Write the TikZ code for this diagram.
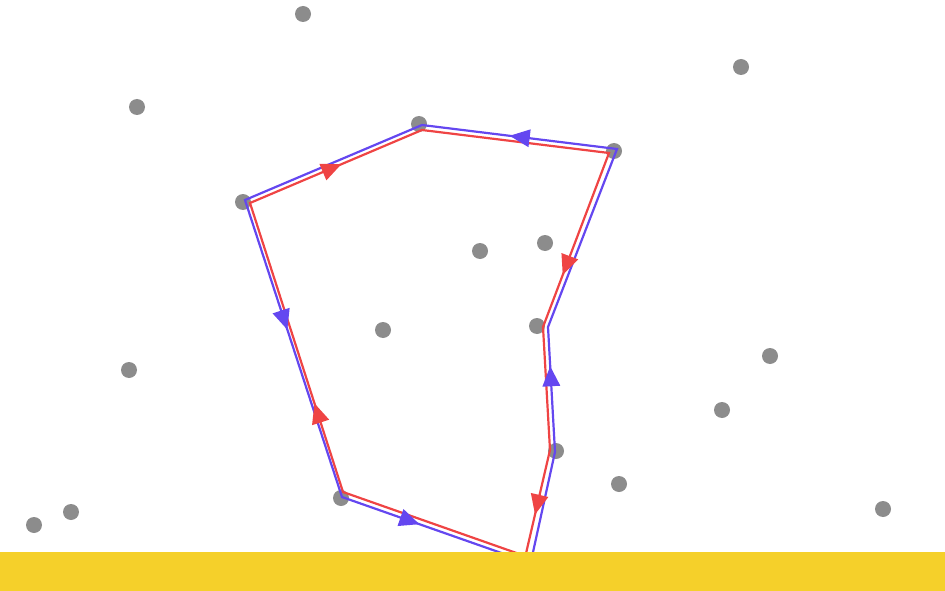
\documentclass[tikz,border=0pt]{standalone}
\usetikzlibrary{decorations.markings}
\definecolor{rl}{HTML}{EF4444}
\definecolor{bl}{HTML}{6447F0}
\definecolor{dotgray}{HTML}{8C8C8C}
\definecolor{sand}{HTML}{F5D02A}
\tikzset{
  dot/.style={circle,fill=dotgray,inner sep=0pt,minimum size=16pt},
  rline/.style={draw=rl,line width=2.2pt,line join=miter},
  bline/.style={draw=bl,line width=2.2pt,line join=miter},
  rarr/.style={postaction={decorate},decoration={markings,mark=at position #1 with {\fill[rl] (2pt,0pt) -- (-18pt,9pt) -- (-18pt,-9pt) -- cycle;}}},
  barr/.style={postaction={decorate},decoration={markings,mark=at position #1 with {\fill[bl] (2pt,0pt) -- (-18pt,9pt) -- (-18pt,-9pt) -- cycle;}}}
}
\begin{document}
\begin{tikzpicture}[x=1pt,y=-1pt]
\useasboundingbox (0,0) rectangle (945,591);
% dots
\foreach \n/\p in {1/{(303,14)},2/{(741,67)},3/{(137,107)},4/{(419,124)},5/{(614,151)},6/{(243,202)},7/{(480,251)},8/{(545,243)},9/{(383,330)},10/{(537,326)},11/{(129,370)},12/{(770,356)},13/{(722,410)},14/{(556,451)},15/{(619,484)},16/{(341,498)},17/{(71,512)},18/{(34,525)},19/{(883,509)}}
  \node[dot] (d\n) at \p {};
% red path
\coordinate (r0) at (579,575);
\coordinate (r1) at (343,492);
\coordinate (r2) at (250,203);
\coordinate (r3) at (422,130);
\coordinate (r4) at (609,153);
\coordinate (r5) at (543,327);
\coordinate (r6) at (550,450);
\coordinate (r7) at (521,575);
% blue path
\coordinate (b0) at (528,575);
\coordinate (b6) at (555,452);
\coordinate (b5) at (548,327);
\coordinate (b4) at (617,149);
\coordinate (b3) at (422,125);
\coordinate (b2) at (245,200);
\coordinate (b1) at (342,497);
\coordinate (b7) at (564,575);
\draw[rline] (r0) -- (r1) -- (r2) -- (r3) -- (r4) -- (r5) -- (r6) -- (r7);
\draw[bline] (b0) -- (b6) -- (b5) -- (b4) -- (b3) -- (b2) -- (b1) -- (b7);
% arrowheads
\path[rarr=0.30] (r1) -- (r2);
\path[rarr=0.52] (r2) -- (r3);
\path[rarr=0.69] (r4) -- (r5);
\path[rarr=0.50] (r6) -- (r7);
\path[barr=0.67] (b6) -- (b5);
\path[barr=0.54] (b4) -- (b3);
\path[barr=0.43] (b2) -- (b1);
\path[barr=0.34] (b1) -- (b7);
% sand bar
\fill[sand] (0,552) rectangle (945,591);
\end{tikzpicture}
\end{document}
